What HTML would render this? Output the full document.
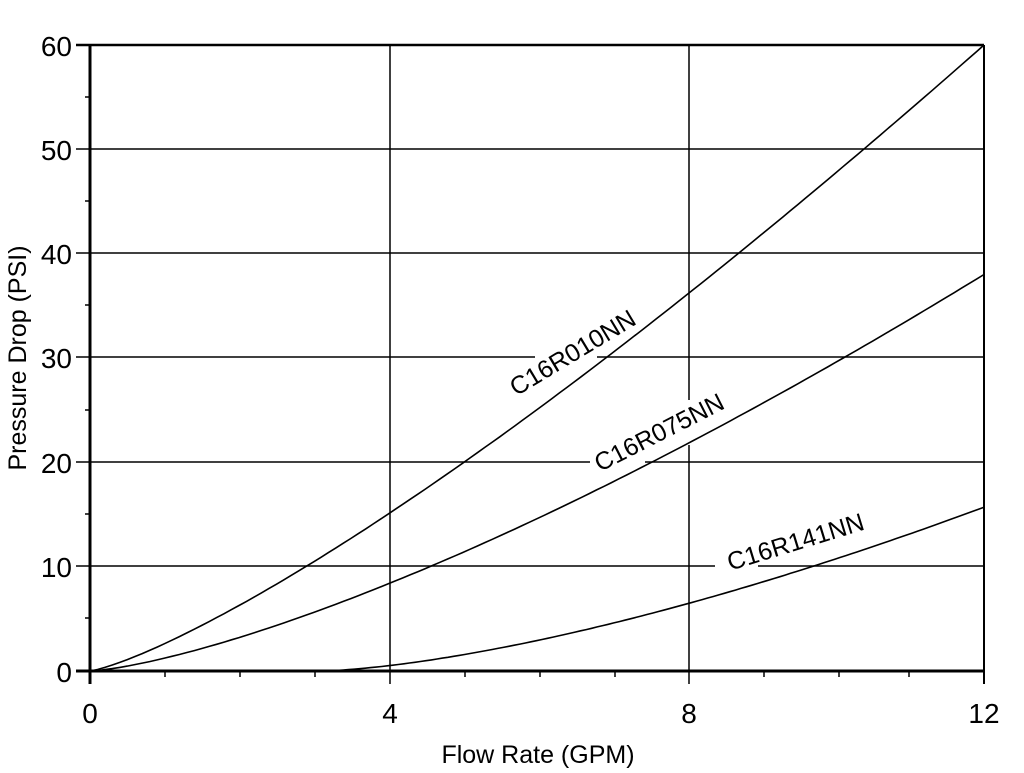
<!DOCTYPE html>
<html><head><meta charset="utf-8"><style>
html,body{margin:0;padding:0;background:#fff;}
svg{display:block;font-family:"Liberation Sans",Arial,sans-serif;}
</style></head><body>
<svg id="s" width="1024" height="773" viewBox="0 0 1024 773" xmlns="http://www.w3.org/2000/svg">
<g stroke="#000" fill="none">
<line x1="76" y1="45" x2="984" y2="45" stroke-width="2.5"/>
<line x1="76" y1="149" x2="984" y2="149" stroke-width="1.5"/>
<line x1="76" y1="253" x2="984" y2="253" stroke-width="1.5"/>
<line x1="76" y1="357" x2="535" y2="357" stroke-width="1.5"/>
<line x1="597" y1="357" x2="984" y2="357" stroke-width="1.5"/>
<line x1="76" y1="462" x2="590" y2="462" stroke-width="1.5"/>
<line x1="645" y1="462" x2="984" y2="462" stroke-width="1.5"/>
<line x1="76" y1="566" x2="715" y2="566" stroke-width="1.5"/>
<line x1="758" y1="566" x2="984" y2="566" stroke-width="1.5"/>
<line x1="76" y1="671" x2="984" y2="671" stroke-width="3"/>
<line x1="90" y1="45" x2="90" y2="684" stroke-width="3"/>
<line x1="390" y1="45" x2="390" y2="684" stroke-width="1.5"/>
<line x1="689" y1="45" x2="689" y2="400" stroke-width="1.5"/>
<line x1="689" y1="445" x2="689" y2="684" stroke-width="1.5"/>
<line x1="984" y1="45" x2="984" y2="684" stroke-width="2"/>
<path d="M165 671V677M240 671V677M315 671V677M465 671V677M540 671V677M615 671V677M764 671V677M839 671V677M909 671V677" stroke-width="1.5"/>
<path d="M85 97H90M85 201H90M85 305H90M85 410H90M85 514H90M85 618H90" stroke-width="1.5"/>
<path id="c1" stroke-width="1.6"/>
<path id="c2" stroke-width="1.6"/>
<path id="c3" stroke-width="1.6"/>
</g>
<g font-size="28" fill="#000" text-anchor="end">
<text x="72" y="56">60</text><text x="72" y="160">50</text><text x="72" y="264">40</text>
<text x="72" y="368">30</text><text x="72" y="473">20</text><text x="72" y="577">10</text><text x="72" y="682">0</text>
</g>
<g font-size="28" fill="#000" text-anchor="middle">
<text x="90" y="723">0</text><text x="390" y="723">4</text><text x="689" y="723">8</text><text x="984" y="723">12</text>
<text x="538" y="763" font-size="25">Flow Rate (GPM)</text>
<text transform="translate(26,358) rotate(-90)" font-size="25">Pressure Drop (PSI)</text>
<text transform="translate(577,360) rotate(-31)" font-size="25">C16R010NN</text>
<text transform="translate(663,440) rotate(-27)" font-size="25">C16R075NN</text>
<text transform="translate(798,550) rotate(-17)" font-size="25">C16R141NN</text>
</g>
</svg>
<script>
function X(v){return 90+v*(984-90)/12;}
function Y(p){return 671-p*(671-45)/60;}
function mk(f,a,b){var d="";for(var i=0;i<=120;i++){var x=a+(b-a)*i/120;d+=(i?"L":"M")+X(x).toFixed(1)+" "+Y(f(x)).toFixed(1);}return d;}
document.getElementById("c1").setAttribute("d",mk(function(x){return 60*Math.pow(x/12,1.26);},0,12));
document.getElementById("c2").setAttribute("d",mk(function(x){return 38*Math.pow(x/12,1.38);},0,12));
document.getElementById("c3").setAttribute("d",mk(function(x){var t=x-3.1;return t<=0?0:15.7*Math.pow(t/8.9,1.5);},3.1,12));
</script>
</body></html>
